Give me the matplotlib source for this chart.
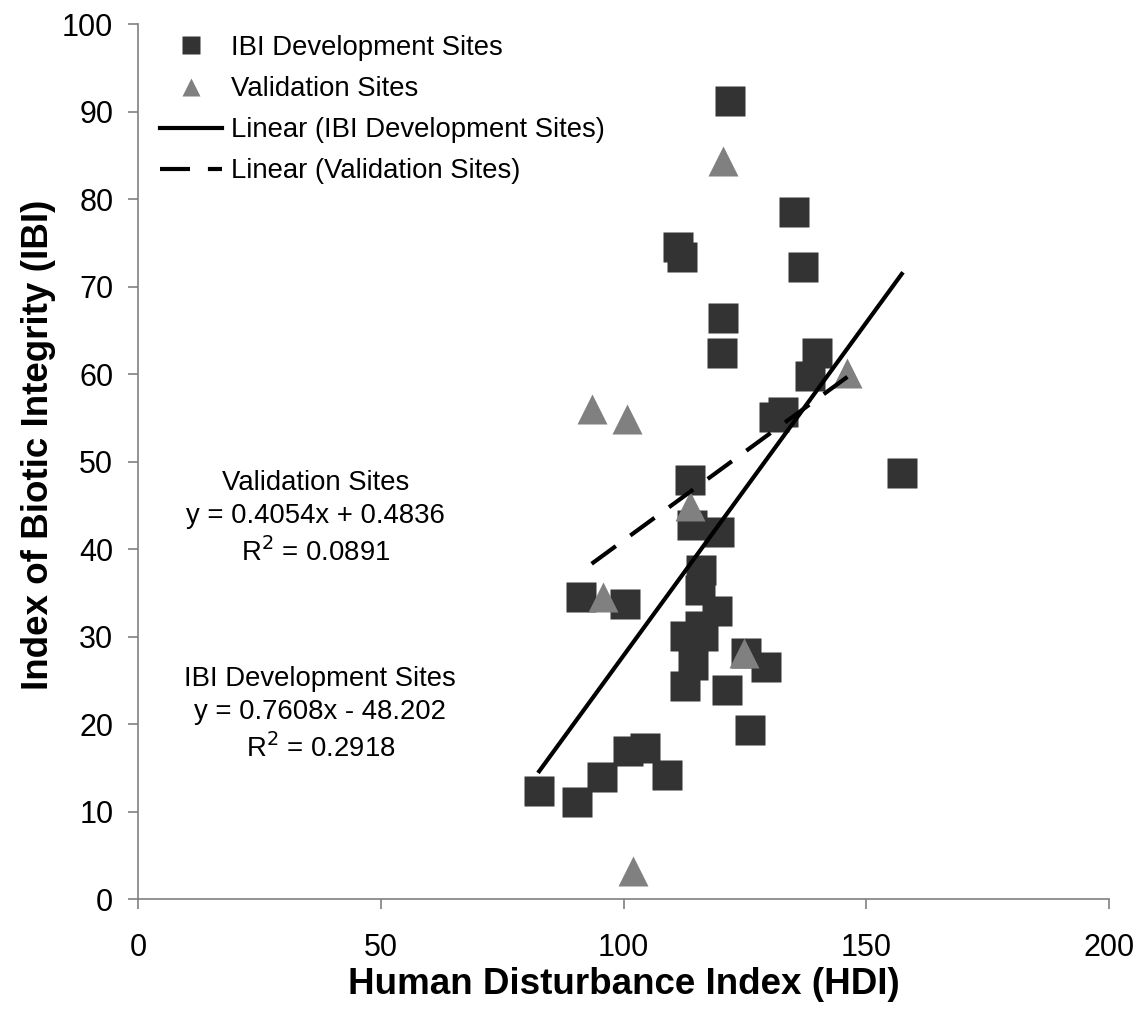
import numpy as np
import matplotlib
matplotlib.use("Agg")
from matplotlib import pyplot as plt

# IBI development sites (HDI, IBI)
dev_hdi = [122.0, 135.0, 111.2, 112.0, 136.9, 120.5, 120.2, 139.9, 138.4, 131.0,
           132.9, 113.7, 114.0, 119.7, 115.9, 115.7, 91.3, 100.3, 119.2, 112.6,
           115.7, 116.4, 114.3, 112.6, 125.3, 129.3, 121.3, 126.0, 100.9, 104.5,
           95.5, 109.0, 82.6, 90.3, 157.3]
dev_ibi = [91.2, 78.6, 74.6, 73.4, 72.3, 66.4, 62.4, 62.4, 59.8, 55.1,
           55.7, 47.9, 42.8, 42.0, 37.6, 35.3, 34.5, 33.7, 33.0, 30.1,
           31.2, 30.1, 26.8, 24.4, 28.2, 26.6, 23.9, 19.3, 16.9, 17.3,
           14.0, 14.2, 12.4, 11.1, 48.7]

# validation sites
val_hdi = [120.5, 146.1, 93.4, 100.6, 113.7, 95.8, 124.8, 102.0]
val_ibi = [84.4, 60.2, 56.0, 54.9, 44.9, 34.6, 28.2, 3.2]

# trendline coefficients (slope, intercept, R^2) as printed on the chart
dev_fit = (0.7608, -48.202, 0.2918)
val_fit = (0.4054, 0.4836, 0.0891)

x_ticks = [0, 50, 100, 150, 200]
y_ticks = list(range(0, 101, 10))

plt.rcParams['font.family'] = ['Liberation Sans', 'DejaVu Sans']

fig = plt.figure(figsize=(11.46, 10.23), dpi=100)
ax = fig.add_axes([0.1207, 0.1209, 0.8470, 0.8553])

ax.plot(dev_hdi, dev_ibi, linestyle='none', marker='s', ms=21,
        color='#333333', mec='none', label='IBI Development Sites', zorder=3)
ax.plot(val_hdi, val_ibi, linestyle='none', marker='^', ms=21,
        color='#808080', mec='none', label='Validation Sites', zorder=4)

xd = np.array([min(dev_hdi), max(dev_hdi)])
ax.plot(xd, dev_fit[0] * xd + dev_fit[1], color='black', lw=3,
        label='Linear (IBI Development Sites)', zorder=5)
xv = np.array([min(val_hdi), max(val_hdi)])
ax.plot(xv, val_fit[0] * xv + val_fit[1], color='black', lw=3,
        dashes=(7.2, 4.3), label='Linear (Validation Sites)', zorder=5)

ax.set_xlim(0, 200)
ax.set_ylim(0, 100)
ax.set_xticks(x_ticks)
ax.set_yticks(y_ticks)

for s in ['top', 'right']:
    ax.spines[s].set_visible(False)
for s in ['left', 'bottom']:
    ax.spines[s].set_color('#808080')
    ax.spines[s].set_linewidth(1.2)
ax.tick_params(axis='both', direction='out', length=7, width=1.2,
               color='#808080', labelsize=22, labelcolor='black')
ax.tick_params(axis='x', pad=17)
ax.tick_params(axis='y', pad=11)

ax.set_xlabel('Human Disturbance Index (HDI)', fontsize=26.5, fontweight='bold', labelpad=3)
ax.set_ylabel('Index of Biotic Integrity (IBI)', fontsize=26.5, fontweight='bold')
ax.yaxis.set_label_coords(-0.085, 0.52)

ax.text(36.5, 43.5, 'Validation Sites\ny = %.4fx + %.4f\nR$^2$ = %.4f' % val_fit,
        ha='center', va='center', fontsize=19.8, linespacing=1.35)
ax.text(37.5, 21.1, 'IBI Development Sites\ny = %.4fx - %.3f\nR$^2$ = %.4f'
        % (dev_fit[0], -dev_fit[1], dev_fit[2]),
        ha='center', va='center', fontsize=19.8, linespacing=1.35)

leg = ax.legend(loc='upper left', bbox_to_anchor=(0.0166, 0.994), frameon=False,
                fontsize=19.8, handlelength=2.27, handletextpad=0.31,
                labelspacing=0.55, markerscale=0.62, borderaxespad=0,
                borderpad=0.2)

fig.savefig('out.png', dpi=100)
